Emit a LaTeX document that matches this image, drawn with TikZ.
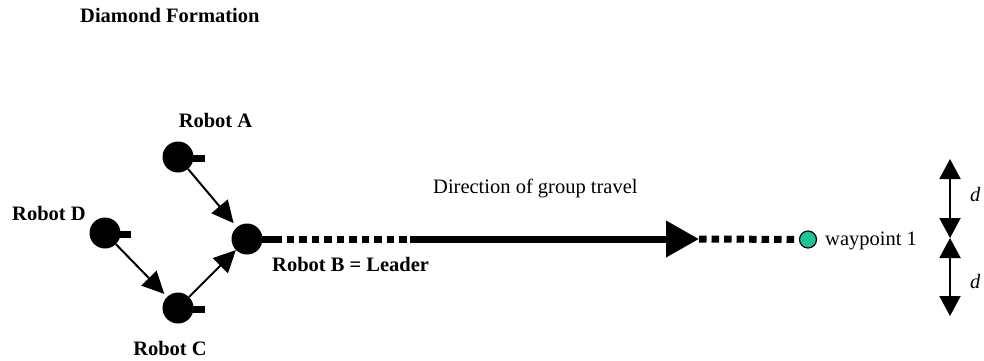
\documentclass[tikz,border=0pt]{standalone}
\usepackage{fontspec}
\setmainfont{Liberation Serif}
\usetikzlibrary{arrows.meta}

\tikzset{
  robot/.style={circle, fill=black, minimum size=31pt, inner sep=0pt},
  robottab/.style={fill=black},
  lbl/.style={inner sep=0pt, font=\fontsize{20.5}{24}\selectfont},
  boldlbl/.style={lbl, font=\fontsize{20.5}{24}\selectfont\bfseries},
  moveto/.style={line width=2pt, -{Triangle[length=22pt,width=21pt]}},
  dotline/.style={line width=7pt, dash pattern=on 7.5pt off 5pt},
  travel/.style={line width=7pt, -{Triangle[length=33pt,width=35pt]}},
  spacing/.style={line width=2pt, {Triangle[length=20pt,width=21pt]}-{Triangle[length=20pt,width=21pt]}},
  waypt/.style={circle, draw=black, line width=1.2pt, fill=wpgreen, minimum size=17pt, inner sep=0pt}
}
\definecolor{wpgreen}{RGB}{28,196,150}

\begin{document}
\begin{tikzpicture}[x=1pt, y=-1pt]
  \useasboundingbox (0,0) rectangle (984,360);

  % title
  \node[boldlbl, anchor=base west] (title) at (80,22) {Diamond Formation};

  % robots with their heading tabs
  \fill[robottab] (190,154.5) rectangle (205,161.5);
  \fill[robottab] (117,230.5) rectangle (131,237.5);
  \fill[robottab] (190,305.5) rectangle (205,312.5);
  \fill[robottab] (259,235.5) rectangle (274,242.5);
  \node[robot] (A) at (178,157) {};
  \node[robot] (D) at (105,233) {};
  \node[robot] (B) at (247,239) {};
  \node[robot] (C) at (178,308) {};

  % robot labels
  \node[boldlbl, anchor=base] (labA) at (215.5,127) {Robot A};
  \node[boldlbl, anchor=base west] (labD) at (12,220) {Robot D};
  \node[boldlbl, anchor=base west] (labB) at (272,271) {Robot B = Leader};
  \node[boldlbl, anchor=base] (labC) at (170,355) {Robot C};

  % moves into formation
  \draw[moveto, shorten >=5pt] (A) -- (B);
  \draw[moveto, shorten >=4pt] (D) -- (C);
  \draw[moveto] (C) -- (B);

  % path of the group towards the waypoint
  \coordinate (solidstart) at (410,239);
  \coordinate (tip) at (699,239);
  \node[waypt] (W) at (808,239.5) {};
  \draw[dotline] (274,239) -- (solidstart);
  \draw[travel] (solidstart) -- (tip);
  \draw[dotline] (tip) -- (W);

  \node[lbl, anchor=base west] (dir) at (433,193) {Direction of group travel};
  \node[lbl, anchor=base west] (wlab) at (825,245.5) {waypoint 1};

  % spacing markers
  \coordinate (top) at (950,159);
  \coordinate (mid) at (950,238);
  \coordinate (bot) at (950,316);
  \draw[spacing] (top) -- (mid);
  \draw[spacing] (mid) -- (bot);
  \node[lbl, anchor=base west] (d1) at (970,201) {\itshape d};
  \node[lbl, anchor=base west] (d2) at (970,288) {\itshape d};
\end{tikzpicture}
\end{document}
